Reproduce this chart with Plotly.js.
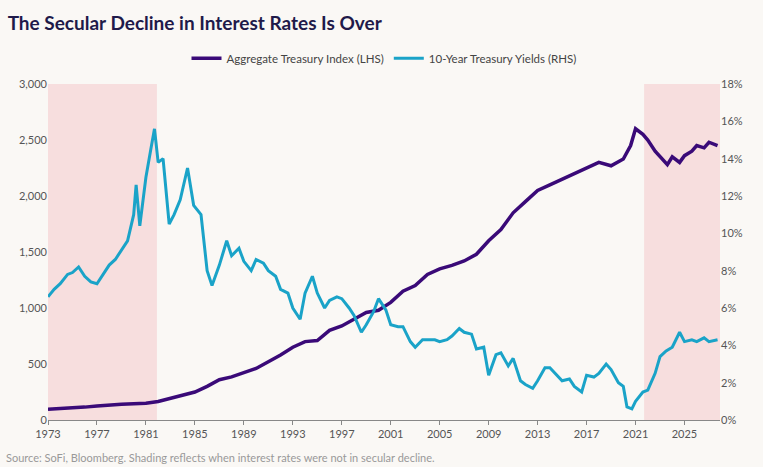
<!DOCTYPE html>
<html><head><meta charset="utf-8">
<script src="https://cdn.plot.ly/plotly-3.0.1.min.js"></script>
<style>body{margin:0;background:#faf8f5}</style></head>
<body><div id="c" style="width:763px;height:467px"></div>
<script>
const yieldX=[1973,1973.5,1974,1974.6,1975,1975.5,1976,1976.5,1977,1977.5,1978,1978.5,1979,1979.5,1980,1980.2,1980.5,1981,1981.4,1981.7,1982,1982.4,1982.9,1983.3,1983.8,1984.4,1984.9,1985.5,1986,1986.4,1987,1987.6,1988,1988.6,1989,1989.6,1990,1990.6,1991,1991.6,1992,1992.6,1993,1993.6,1994,1994.6,1995,1995.6,1996,1996.6,1997,1997.6,1998,1998.6,1999,1999.6,2000,2000.6,2001,2001.6,2002,2002.6,2003,2003.6,2004,2004.6,2005,2005.6,2006,2006.6,2007,2007.6,2008,2008.6,2009,2009.6,2010,2010.6,2011,2011.6,2012,2012.6,2013,2013.6,2014,2014.6,2015,2015.6,2016,2016.6,2017,2017.6,2018,2018.6,2019,2019.6,2020,2020.3,2020.7,2021,2021.6,2022,2022.6,2023,2023.5,2024,2024.6,2025,2025.6,2026,2026.6,2027,2027.7];
const yieldV=[6.6,7.0,7.3,7.8,7.9,8.2,7.7,7.4,7.3,7.8,8.3,8.6,9.1,9.6,11.0,12.6,10.4,13.0,14.5,15.6,13.8,14.0,10.5,11.0,11.8,13.5,11.5,11.0,8.0,7.2,8.3,9.6,8.8,9.2,8.5,8.0,8.6,8.4,8.0,7.7,7.0,6.8,6.0,5.4,6.8,7.7,6.8,6.0,6.4,6.6,6.5,6.0,5.6,4.7,5.1,5.8,6.5,5.9,5.1,5.0,5.0,4.2,3.9,4.3,4.3,4.3,4.2,4.3,4.5,4.9,4.7,4.6,3.8,3.9,2.4,3.5,3.6,2.9,3.3,2.1,1.9,1.7,2.1,2.8,2.8,2.4,2.1,2.2,1.8,1.5,2.4,2.3,2.5,3.0,2.7,2.0,1.8,0.7,0.6,1.0,1.5,1.6,2.5,3.4,3.7,3.9,4.7,4.2,4.3,4.2,4.4,4.2,4.3,4.4,4.6];
const idxX=[1973,1974,1975,1976,1977,1978,1979,1980,1981,1982,1983,1984,1985,1986,1987,1988,1989,1990,1991,1992,1993,1994,1995,1996,1997,1998,1999,2000,2001,2002,2003,2004,2005,2006,2007,2008,2009,2010,2011,2012,2013,2014,2015,2016,2017,2018,2019,2020,2020.6,2021,2021.6,2022,2022.6,2023,2023.6,2024,2024.6,2025,2025.6,2026,2026.6,2027,2027.7];
const idxV=[95,100,108,115,125,135,140,145,150,165,195,220,250,300,360,385,420,460,520,580,650,700,710,800,840,900,960,980,1050,1150,1200,1300,1350,1380,1420,1480,1600,1700,1850,1950,2050,2100,2150,2200,2250,2300,2270,2330,2450,2600,2550,2500,2400,2350,2280,2350,2300,2360,2400,2450,2430,2480,2450];
const ticks=[1973,1977,1981,1985,1989,1993,1997,2001,2005,2009,2013,2017,2021,2025];
const rTicks=[0,2,4,6,8,10,12,14,16,18];
Plotly.newPlot('c',[
 {x:idxX,y:idxV,name:'Aggregate Treasury Index (LHS)',type:'scatter',mode:'lines',line:{color:'#3a0a78',width:3.5}},
 {x:yieldX,y:yieldV,name:'10-Year Treasury Yields (RHS)',type:'scatter',mode:'lines',yaxis:'y2',line:{color:'#1aa3c8',width:3}}
],{
 width:763,height:467,paper_bgcolor:'#faf8f5',plot_bgcolor:'#faf8f5',
 font:{family:'Lato, sans-serif',size:11,color:'#555'},
 title:{text:'<b>The Secular Decline in Interest Rates Is Over</b>',x:0.01,xanchor:'left',y:0.965,font:{size:19,color:'#1f1a4a',family:'Lato, sans-serif'}},
 margin:{l:48,r:43,t:84,b:47},
 legend:{orientation:'h',x:0.5,xanchor:'center',y:1.12,font:{size:11.5,color:'#444'}},
 xaxis:{range:[1973,2027.9],tickvals:ticks,ticktext:ticks.map(String),showgrid:false,zeroline:false,showline:true,linecolor:'#888',ticks:'outside',ticklen:4,tickcolor:'#888'},
 yaxis:{range:[0,3000],tickvals:[0,500,1000,1500,2000,2500,3000],tickformat:',',showgrid:false,zeroline:false},
 yaxis2:{range:[0,18],overlaying:'y',side:'right',tickvals:rTicks,ticktext:rTicks.map(v=>v+'%'),showgrid:false,zeroline:false},
 shapes:[
  {type:'rect',xref:'x',yref:'paper',x0:1973,x1:1981.9,y0:0,y1:1,fillcolor:'#f7dede',line:{width:0},layer:'below'},
  {type:'rect',xref:'x',yref:'paper',x0:2021.7,x1:2027.9,y0:0,y1:1,fillcolor:'#f7dede',line:{width:0},layer:'below'}
 ],
 annotations:[{text:'Source: SoFi, Bloomberg. Shading reflects when interest rates were not in secular decline.',xref:'paper',yref:'paper',x:-0.065,y:-0.085,xanchor:'left',yanchor:'top',showarrow:false,font:{size:11,color:'#999'}}]
},{displayModeBar:false});
</script></body></html>
